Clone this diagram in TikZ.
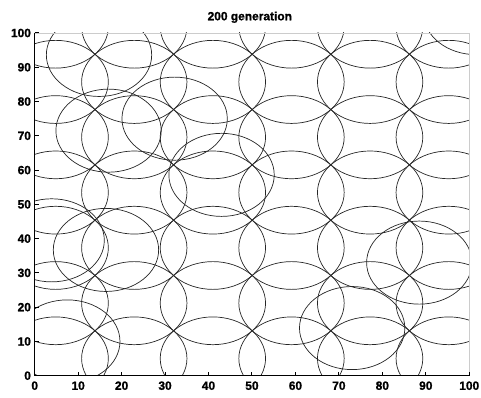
\documentclass[tikz,border=0pt]{standalone}
\usepackage{fontspec}
\setmainfont{Liberation Sans}
\newfontfamily\labfont[FakeBold=1.2]{Liberation Sans Bold}

\begin{document}
\begin{tikzpicture}[
    ring/.style={draw=black!85, line width=0.5pt},
    tickmark/.style={draw=black, line width=0.7pt},
    boxline/.style={draw=black!20, line width=0.6pt},
    lab/.style={font=\fontsize{8.5}{10}\labfont, inner sep=0pt}
]
\path[use as bounding box] (0,0) rectangle (12.025,9.95);

% data axes: 0..100 in both directions
\begin{scope}[shift={(0.8675,0.5575)}, x=0.10865cm, y=0.085675cm]

  % circles, clipped to the axes box
  \begin{scope}
    \clip (0,0) rectangle (100,100);
    % regular lattice of circles
    \foreach \i in {0,...,5}
      \foreach \j in {0,...,6}
        \draw[ring] ({4.825+18.09*\i},{5.03+16.14*\j}) circle[radius=12.12];
    % stray circles off the lattice
    \foreach \cx/\cy in {14.8/93.6, 17/71.5, 32.2/75, 43/58.6, 16.4/36.7,
                         3.9/39.5, 7.5/10, 88.5/33, 73.05/13.9, 101.6/105.8}
      \draw[ring] (\cx,\cy) circle[radius=12.12];
  \end{scope}

  % axes box and ticks
  \draw[boxline] (0,100) -- (100,100) -- (100,0);
  \draw[tickmark] (0,100) -- (0,0) -- (100,0);
  \foreach \v in {0,10,...,100} {
    \draw[tickmark] (\v,0) -- (\v,1.2);
    \draw[tickmark] (0,\v) -- (0.95,\v);
    \node[lab, anchor=north] (xl\v) at (\v,-1.6) {\v};
    \node[lab, anchor=east] (yl\v) at (-0.8,\v) {\v};
  }

  % title
  \node[lab] (title) at (49.5,104.6) {200 generation};
\end{scope}
\end{tikzpicture}
\end{document}
